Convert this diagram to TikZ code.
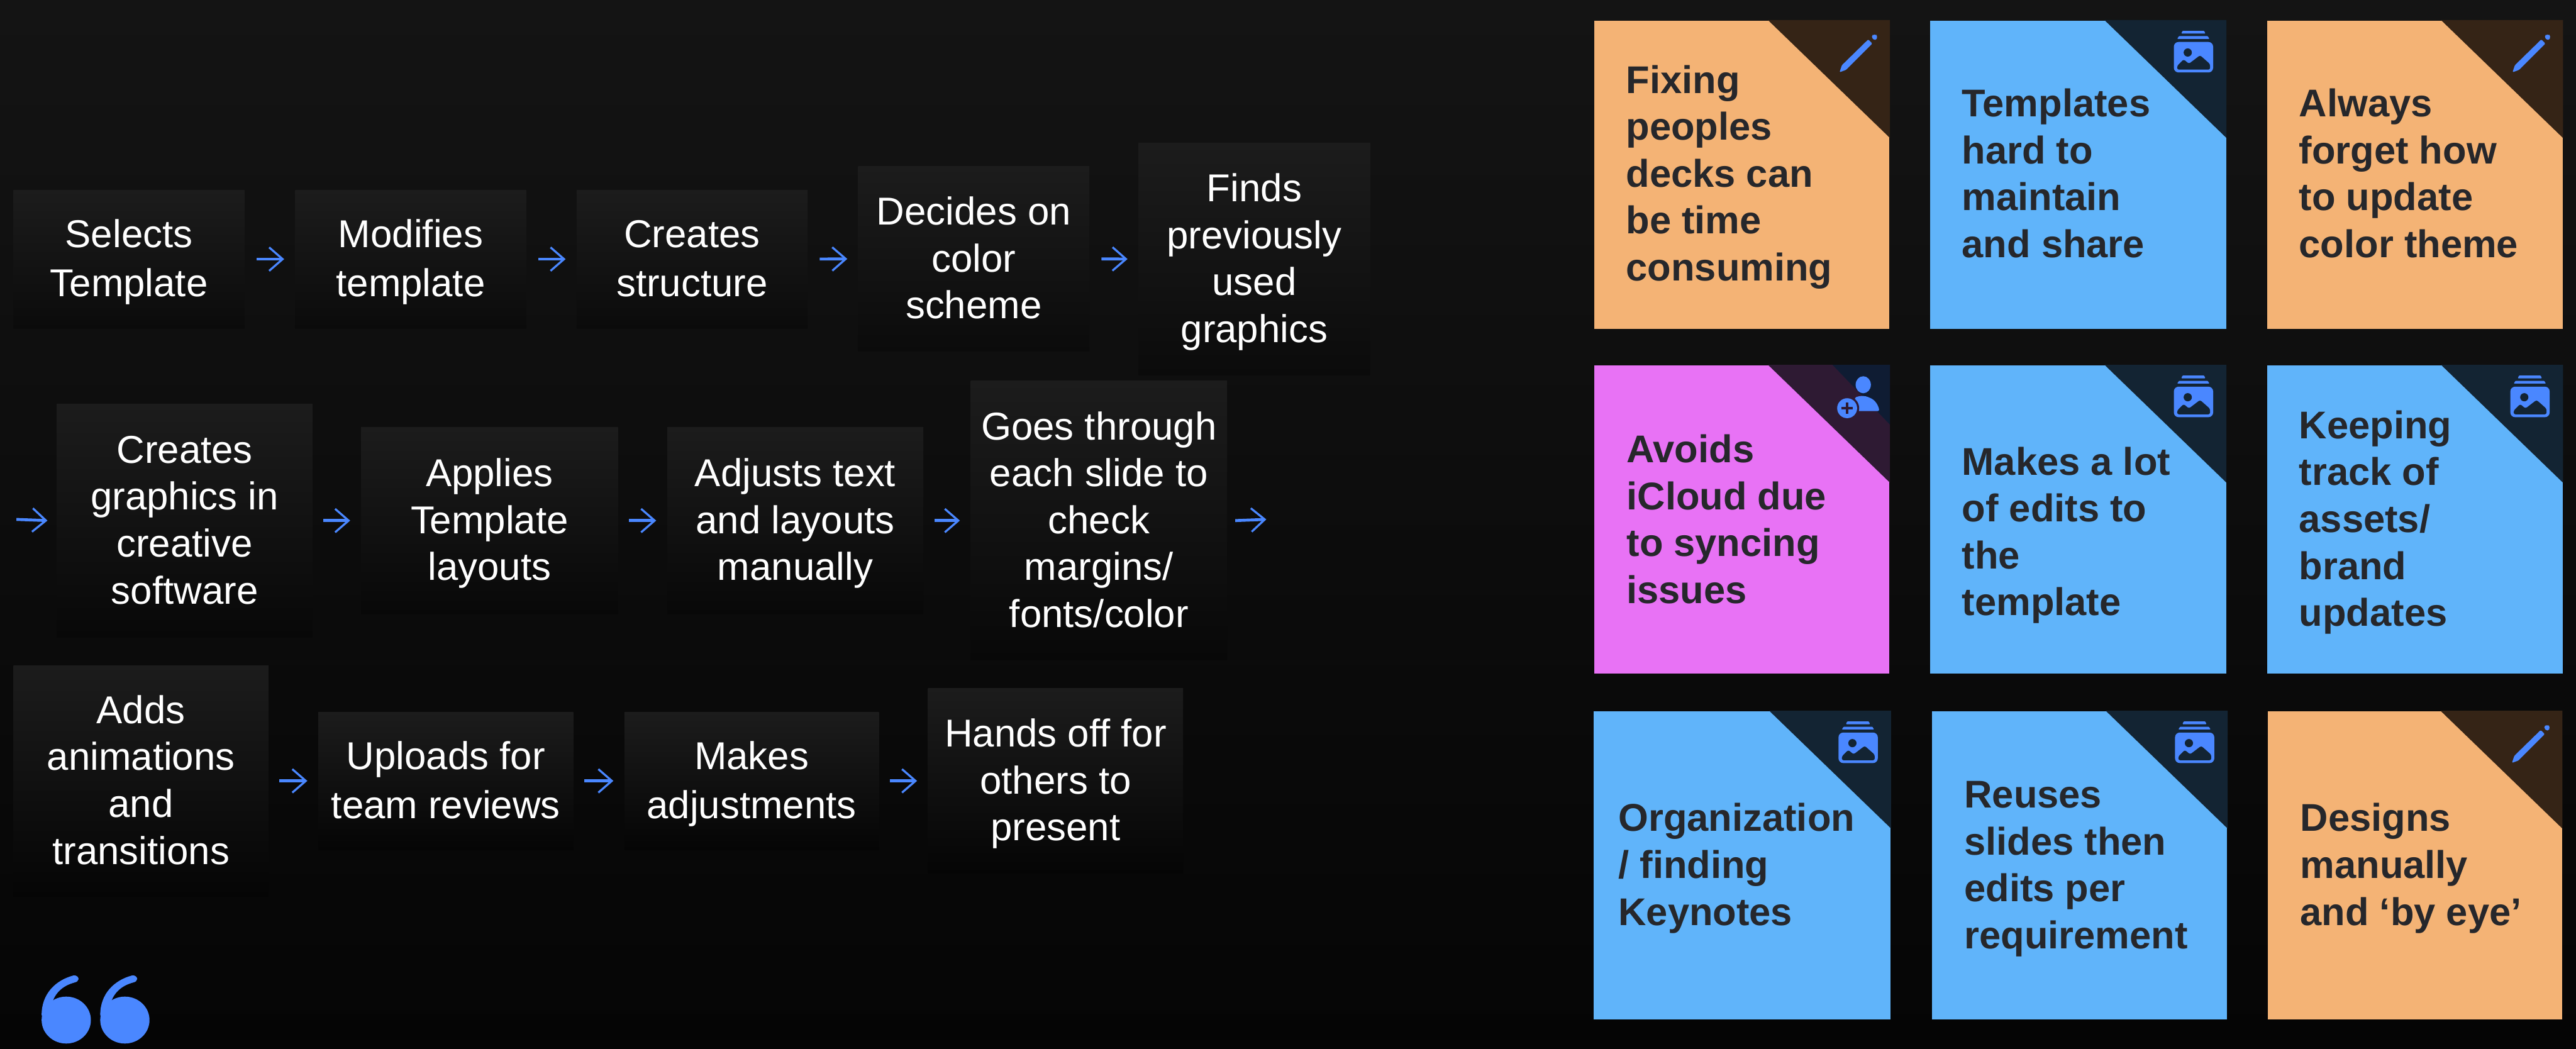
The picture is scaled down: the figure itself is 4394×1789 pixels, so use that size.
\documentclass[tikz,border=0pt]{standalone}
\usepackage{fontspec}
\setmainfont{Liberation Sans}
\usetikzlibrary{arrows.meta}
\definecolor{bgtop}{HTML}{141414}
\definecolor{bgbot}{HTML}{050505}
\definecolor{boxtop}{HTML}{1C1C1C}
\definecolor{boxbot}{HTML}{0B0B0B}
\definecolor{accent}{HTML}{4A87FF}
\definecolor{ink}{HTML}{26272B}
\definecolor{cardO}{HTML}{F4B375}
\definecolor{cardOfold}{HTML}{352416}
\definecolor{cardB}{HTML}{60B4FA}
\definecolor{cardBfold}{HTML}{132433}
\definecolor{cardP}{HTML}{E872F5}
\definecolor{cardPfold}{HTML}{2E1A33}
\definecolor{cardPinner}{HTML}{0F1C33}
\newcommand{\lstrut}{\rule[-0.18cm]{0pt}{0.8cm}}
\newcommand{\stepnode}[6]{\node[stepbox,minimum width=#4*0.01cm,minimum height=#5*0.01cm] (#1) at (#2,#3) {\lstrut #6\lstrut};}
\newcommand{\card}[9]{%
  \node[cardbox,fill=#6,minimum width=#4*0.01cm,minimum height=#5*0.01cm] (#1) at (#2,#3) {};
  \fill[#6fold] (#1.north east) -- +(-208,0) -- +(0,201) -- cycle;
  \pic at (#1.north east) {#7};
  \node[cardtext] (#1t) at #8 {\lstrut #9\lstrut};}
\tikzset{
  x=0.01cm,y=-0.01cm,
  stepbox/.style={rectangle,inner sep=0pt,top color=boxtop,bottom color=boxbot,draw=none,text=white,align=center,font=\fontsize{18.85}{22.76}\selectfont},
  cardbox/.style={rectangle,inner sep=0pt,draw=none},
  cardtext/.style={anchor=west,inner sep=0pt,text=ink,align=left,font=\fontsize{18.75}{22.76}\selectfont\bfseries},
  flow/.style={draw=accent,line width=0.05cm,-{Straight Barb[length=0.23cm,width=0.4cm,line width=0.035cm]}},
  pencilicon/.pic={
    \fill[accent,rounded corners=0.015cm] (-86,89) -- (-82,77) -- (-37,33) -- (-30,40) -- (-75,85) -- cycle;
    \fill[accent,rounded corners=0.05cm] (-33,28) -- (-26,23) -- (-20,28) -- (-25,36) -- cycle;
  },
  jaricon/.pic={
    \fill[accent,rounded corners=0.01cm] (-77,23) -- (-75,18.3) -- (-38,18.3) -- (-36,23) -- cycle;
    \fill[accent,rounded corners=0.01cm] (-84,32) -- (-81,27.3) -- (-32,27.3) -- (-29,32) -- cycle;
    \fill[accent,rounded corners=0.08cm] (-89.7,37.3) rectangle (-22.7,89.3);
    \fill[cardBfold] (-66,55.3) circle[radius=0.07cm];
    \fill[cardBfold,rounded corners=0.03cm] (-84,84.5) -- (-84,78) -- (-73,67) -- (-64,74.5) -- (-45,60) -- (-28,75) -- (-28,84.5) -- cycle;
  },
  personicon/.pic={
    \fill[cardPinner] (-98,0) -- (0,0) -- (0,102) -- cycle;
    \fill[accent] (-45.5,34) ellipse[x radius=0.13cm,y radius=0.145cm];
    \fill[accent,rounded corners=0.03cm] (-60,79) -- (-60,56) .. controls (-50,52) and (-42,53) .. (-35,56) .. controls (-26,60) and (-20,68) .. (-18,79) -- cycle;
    \fill[cardPfold] (-73,74) circle[radius=0.205cm];
    \fill[accent] (-73,74) circle[radius=0.17cm];
    \draw[cardPfold,line width=0.035cm] (-83,74) -- (-63,74) (-73,64) -- (-73,84);
  },
  quoteicon/.pic={
    \fill[accent] (42,76) ellipse[x radius=0.42cm,y radius=0.4cm];
    \fill[accent] (0,67) .. controls (0,31) and (24,8) .. (54,0) .. controls (60,-1) and (63,3) .. (63,6) .. controls (63,9) and (60,11) .. (56,12) .. controls (37,17) and (23,29) .. (18,47) -- (42,76) -- (10,100) -- cycle;
  },
}
\begin{document}
\begin{tikzpicture}
\useasboundingbox (0,0) rectangle (4394,1789);
\shade[top color=bgtop,bottom color=bgbot] (0,0) rectangle (4394,1789);

% row 1
\stepnode{a1}{220}{442}{394}{236}{Selects\\Template}
\stepnode{a2}{700.5}{442}{394}{236}{Modifies\\template}
\stepnode{a3}{1180.5}{442}{394}{236}{Creates\\structure}
\stepnode{a4}{1661}{441.5}{394}{316}{Decides on\\color\\scheme}
\stepnode{a5}{2139.5}{442}{395}{396}{Finds\\previously\\used\\graphics}
% row 2
\definecolor{boxbot}{HTML}{080808}
\stepnode{b1}{315}{888}{436}{398}{Creates\\graphics in\\creative\\software}
\stepnode{b2}{835}{888}{438}{319}{Applies\\Template\\layouts}
\stepnode{b3}{1356.5}{888}{437}{319}{Adjusts text\\and layouts\\manually}
\stepnode{b4}{1874.5}{888}{437}{476}{Goes through\\each slide to\\check\\margins/\\fonts/color}
% row 3
\definecolor{boxbot}{HTML}{050505}
\stepnode{c1}{240.5}{1332}{435}{394}{Adds\\animations\\and\\transitions}
\stepnode{c2}{760.5}{1332}{435}{235}{Uploads for\\team reviews}
\stepnode{c3}{1282}{1332}{434}{235}{Makes\\adjustments}
\stepnode{c4}{1800.5}{1332}{435}{316}{Hands off for\\others to\\present}

\coordinate (b0) at (28,886);
\coordinate (b5) at (2160,886);

\foreach \p/\q in {a1/a2,a2/a3,a3/a4,a4/a5}
  \draw[flow,shorten <=0.2cm,shorten >=0.18cm] (\p.east) -- (\q.west);
\draw[flow] (b0) -- (b1.west -| 81,886);
\foreach \p/\q in {b1/b2,b2/b3,b3/b4,c1/c2,c2/c3,c3/c4}
  \draw[flow,shorten <=0.18cm,shorten >=0.18cm] (\p.east) -- (\q.west);
\draw[flow] (b4.east -| 2107,886) -- (b5);

% sticky notes
\card{s11}{2971}{298}{504}{526}{cardO}{pencilicon}{(2773,297)}{Fixing\\peoples\\decks can\\be time\\consuming}
\card{s12}{3544.5}{298}{505}{526}{cardB}{jaricon}{(3346,297)}{Templates\\hard to\\maintain\\and share}
\card{s13}{4119}{298}{504}{526}{cardO}{pencilicon}{(3921,297)}{Always\\forget how\\to update\\color theme}
\card{s21}{2971}{886}{504}{526}{cardP}{personicon}{(2774,887)}{Avoids\\iCloud due\\to syncing\\issues}
\card{s22}{3544.5}{886}{505}{526}{cardB}{jaricon}{(3346,908)}{Makes a lot\\of edits to\\the\\template}
\card{s23}{4119}{886}{504}{526}{cardB}{jaricon}{(3921,886)}{Keeping\\track of\\assets/\\brand\\updates}
\card{s31}{2971.5}{1476}{507}{526}{cardB}{jaricon}{(2760,1476)}{Organization\\/ finding\\Keynotes}
\card{s32}{3547}{1476}{504}{526}{cardB}{jaricon}{(3350,1476)}{Reuses\\slides then\\edits per\\requirement}
\card{s33}{4119}{1476}{502}{526}{cardO}{pencilicon}{(3923,1476)}{Designs\\manually\\and ‘by eye’}

% quotation mark
\pic at (71,1664) {quoteicon};
\pic at (171,1664) {quoteicon};
\end{tikzpicture}
\end{document}
